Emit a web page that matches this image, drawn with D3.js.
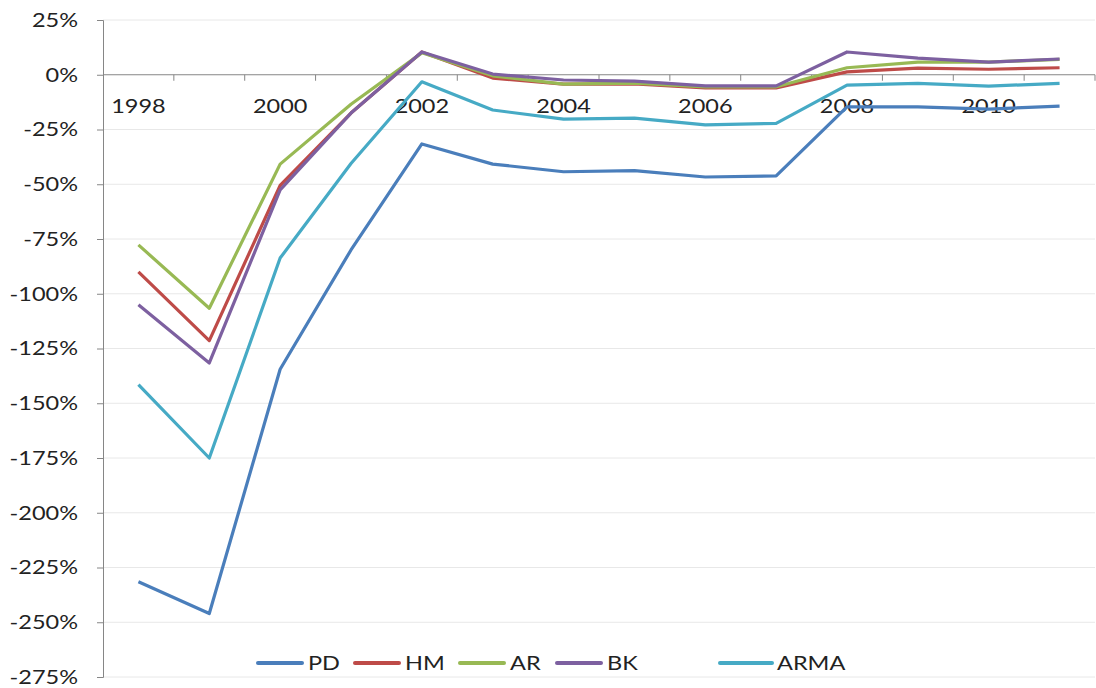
<!DOCTYPE html>
<html><head><meta charset="utf-8">
<script src="https://cdn.jsdelivr.net/npm/d3@7"></script>
<style>body{margin:0;background:#fff}svg{display:block}text{font-family:Lato,"Open Sans",sans-serif;fill:#222}</style>
</head><body><svg id="c" width="1096" height="688"></svg>
<script>
const years = [1998,1999,2000,2001,2002,2003,2004,2005,2006,2007,2008,2009,2010,2011];
const yTicks = [25,0,-25,-50,-75,-100,-125,-150,-175,-200,-225,-250,-275];
const seriesNames = ["PD","HM","AR","BK","ARMA"];
const seriesColors = ["#4a7ebb","#be4b48","#98b954","#7d60a0","#46aac5"];
const PD   = [-231.5,-246,-134.5,-80,-31.6,-40.8,-44.3,-43.8,-46.7,-46.2,-14.7,-14.7,-15.7,-14.3];
const HM   = [-90,-121.4,-50.5,-17.5,10.4,-1.5,-4.3,-4.2,-6,-6,1.3,3,2.5,3.2];
const AR   = [-77.7,-106.6,-40.8,-13.5,10,-0.5,-4.3,-3.8,-5.5,-5.5,3.2,5.8,5.8,7];
const BK   = [-105,-131.6,-52.6,-17.5,10.4,0.3,-2.4,-2.9,-5.1,-5.1,10.4,7.6,5.8,7.2];
const ARMA = [-141.5,-175,-83.7,-40.5,-3.2,-16.1,-20.3,-19.8,-22.9,-22.2,-4.7,-3.9,-5.2,-3.9];
const seriesValues = [PD,HM,AR,BK,ARMA];

(function(){
const svg = d3.select("#c");
const mL = 103, mR = 1095, mT = 20, mB = 677;
const S = 1.27, FS = 18.5;
const x = d3.scaleBand().domain(years).range([mL,mR]);
const y = d3.scaleLinear().domain([-275,25]).range([mB,mT]);

// gridlines
svg.append("g").selectAll("line").data(yTicks.filter(d=>d!==0)).join("line")
  .attr("x1",mL).attr("x2",mR).attr("y1",d=>y(d)).attr("y2",d=>y(d))
  .attr("stroke","#e8e8e8").attr("stroke-width",1);

// y axis
const yAxis = svg.append("g").attr("transform",`translate(${mL},0)`)
  .call(d3.axisLeft(y).tickValues(yTicks).tickFormat(d=>d+"%").tickSize(6).tickPadding(25));
yAxis.select(".domain").attr("stroke","#868686");
yAxis.selectAll(".tick line").attr("stroke","#868686");
yAxis.selectAll("text").attr("font-size",FS).attr("fill","#222").style("font-family","Lato")
  .attr("x",-25/S).attr("dy","0.35em").attr("transform",`scale(${S},1)`);

// x axis at 0
const xAxis = svg.append("g").attr("transform",`translate(0,${y(0)})`)
  .call(d3.axisBottom(x).tickValues(years.filter((d,i)=>i%2===0)).tickSize(0));
xAxis.select(".domain").attr("stroke","#868686").attr("d",`M${mL},0H${mR}`);
xAxis.selectAll("text").attr("font-size",FS).attr("fill","#222").style("font-family","Lato")
  .attr("y",38).attr("dy",0).attr("transform",`scale(${S},1)`);
// tick marks at band boundaries
svg.append("g").selectAll("line").data(years).join("line")
  .attr("x1",d=>x(d)+x.step()).attr("x2",d=>x(d)+x.step())
  .attr("y1",y(0)).attr("y2",y(0)+6).attr("stroke","#868686");

// lines
const line = d3.line().x((d,i)=>x(years[i])+x.bandwidth()/2).y(d=>y(d));
svg.append("g").selectAll("path").data(seriesValues).join("path")
  .attr("d",line).attr("fill","none")
  .attr("stroke",(d,i)=>seriesColors[i]).attr("stroke-width",3.2)
  .attr("stroke-linejoin","round");

// legend
const legX = [258,355,460,557,720];
const lg = svg.append("g").selectAll("g").data(seriesNames).join("g")
  .attr("transform",(d,i)=>`translate(${legX[i]},663)`);
lg.append("line").attr("x1",0).attr("x2",(d,i)=>i===4?52:44).attr("stroke",(d,i)=>seriesColors[i])
  .attr("stroke-width",4).attr("stroke-linecap","round");
lg.append("text").attr("x",(d,i)=>(i===4?57:50)/S).attr("dy","0.36em").attr("font-size",FS)
  .attr("transform",`scale(${S},1)`).text(d=>d);
})();
</script></body></html>
